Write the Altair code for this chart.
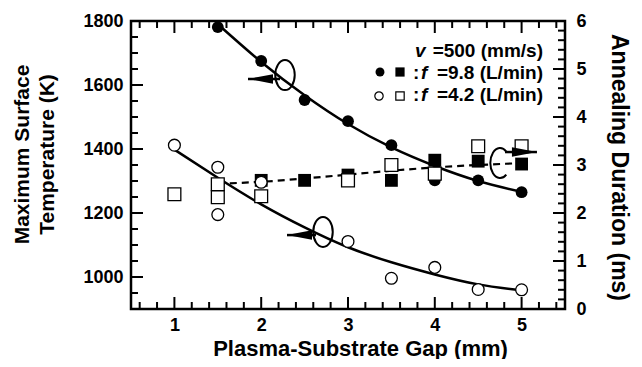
import altair as alt
import pandas as pd

# ---------------- data ----------------
# Maximum surface temperature (K), f = 9.8 L/min (closed circles)
gap_f98_temp = [1.5, 2, 2.5, 3, 3.5, 4, 4.5, 5]
temp_f98 = [1781, 1675, 1553, 1487, 1412, 1302, 1302, 1265]
# Maximum surface temperature (K), f = 4.2 L/min (open circles)
gap_f42_temp = [1, 1.5, 1.5, 2, 3, 3.5, 4, 4.5, 5]
temp_f42 = [1412, 1343, 1195, 1296, 1111, 996, 1030, 961, 960]
# Annealing duration (ms), f = 9.8 L/min (closed squares)
gap_f98_dur = [2, 2.5, 3, 3.5, 4, 4.5, 5]
dur_f98 = [2.68, 2.68, 2.79, 2.68, 3.10, 3.08, 3.02]
# Annealing duration (ms), f = 4.2 L/min (open squares)
gap_f42_dur = [1, 1.5, 1.5, 2, 3, 3.5, 4, 4.5, 5]
dur_f42 = [2.39, 2.60, 2.33, 2.35, 2.68, 3.00, 2.82, 3.39, 3.39]

# fitted curves
fit_gap_hi = [1.5, 2, 2.5, 3, 3.5, 4, 4.5, 5]
fit_temp_hi = [1790, 1672, 1568, 1478, 1405, 1347, 1300, 1266]
fit_gap_lo = [1, 1.5, 2, 2.5, 3, 3.5, 4, 4.5, 5]
fit_temp_lo = [1398, 1310, 1227, 1155, 1093, 1046, 1008, 977, 958]
fit_gap_dur = [1.5, 2, 2.5, 3, 3.5, 4, 4.5, 5]
fit_dur = [2.61, 2.65, 2.72, 2.80, 2.88, 2.95, 3.00, 3.04]

# annotation loops and arrows (data units)
loop_temp_gap = [2.274, 2.712]
loop_temp_val = [1631, 1141]
arrow_temp_tip = [1.848, 2.297]
arrow_temp_tail = [2.217, 2.631]
arrow_temp_val = [1619, 1131]
loop_dur_gap = [4.751]
loop_dur_val = [3.04]
arrow_dur_tip = [5.177]
arrow_dur_tail = [4.809]
arrow_dur_val = [3.27]

# ticks
x_major = [1, 2, 3, 4, 5]
x_minor = [0.6, 0.8, 1.2, 1.4, 1.6, 1.8, 2.2, 2.4, 2.6, 2.8, 3.2, 3.4, 3.6, 3.8,
           4.2, 4.4, 4.6, 4.8, 5.2, 5.4]
t_major = [1000, 1200, 1400, 1600, 1800]
t_minor = [950, 1050, 1100, 1150, 1250, 1300, 1350, 1450, 1500, 1550, 1650, 1700, 1750]
d_major = [0, 1, 2, 3, 4, 5, 6]
d_minor = [0.2, 0.4, 0.6, 0.8, 1.2, 1.4, 1.6, 1.8, 2.2, 2.4, 2.6, 2.8, 3.2, 3.4, 3.6,
           3.8, 4.2, 4.4, 4.6, 4.8, 5.2, 5.4, 5.6, 5.8]

x_title = "Plasma-Substrate Gap (mm)"
left_title = ["Maximum Surface", "Temperature (K)"]
right_title = "Annealing Duration (ms)"
legend_v = "v"
legend_v_tail = "=500 (mm/s)"
legend_sep = ":"
legend_f = "f"
legend_tail_98 = "=9.8 (L/min)"
legend_tail_42 = "=4.2 (L/min)"

# ---------------- styling ----------------
W, H = 434, 288
FONT = "Liberation Sans"
MAJ, MIN = 12, 7
ELLIPSE = "M0,-1 A0.65,1 0 1,1 0,1 A0.65,1 0 1,1 0,-1 Z"
C_SHAPE = "M0.42,-0.77 A0.65,1 0 1,0 0.42,0.77"
HEAD_LEFT = "M0,0 L2,-0.38 L2,0.38 Z"
HEAD_RIGHT = "M0,0 L-2,-0.38 L-2,0.38 Z"

xs = alt.Scale(domain=[0.5, 5.5], nice=False, zero=False)
ts = alt.Scale(domain=[900, 1800], nice=False, zero=False)
ds = alt.Scale(domain=[0, 6], nice=False, zero=False)

x_axis = alt.Axis(values=x_major, format="d", title=x_title, ticks=False, tickSize=0,
                  domain=False, grid=False, labelFont=FONT, labelFontSize=18,
                  labelFontWeight="bold", labelColor="black", labelPadding=7,
                  titleFont=FONT, titleFontSize=22, titleFontWeight="bold",
                  titleColor="black", titleX=229, titleY=46, titleAlign="center",
                  titleBaseline="alphabetic")
left_axis = alt.Axis(orient="left", values=t_major, format="d", title=left_title,
                     ticks=False, tickSize=0, domain=False, grid=False, labelFont=FONT,
                     labelFontSize=18, labelFontWeight="bold", labelColor="black",
                     labelPadding=8, titleFont=FONT, titleFontSize=21,
                     titleFontWeight="bold", titleColor="black", titleAngle=270,
                     titleX=-103, titleY=133, titleAlign="center",
                     titleBaseline="alphabetic", titleLineHeight=25)
right_axis = alt.Axis(orient="right", values=d_major, format="d", title=right_title,
                      ticks=False, tickSize=0, domain=False, grid=False, labelFont=FONT,
                      labelFontSize=18, labelFontWeight="bold", labelColor="black",
                      labelPadding=11, titleFont=FONT, titleFontSize=23,
                      titleFontWeight="bold", titleColor="black", titleAngle=90,
                      titleX=46, titleY=146, titleAlign="center",
                      titleBaseline="alphabetic")

Xn = lambda f="gap": alt.X(f"{f}:Q", scale=xs, axis=x_axis)
Tn = lambda f="val": alt.Y(f"{f}:Q", scale=ts, axis=None)
Dn = lambda f="val": alt.Y(f"{f}:Q", scale=ds, axis=None)


def df(x, y):
    return pd.DataFrame({"gap": x, "val": y})


layers = []

# --- frame ---
one = pd.DataFrame({"k": [0]})
layers.append(alt.Chart(one).mark_rect(filled=False, stroke="black", strokeWidth=2.5).encode(
    x=alt.value(0), x2=alt.value(W), y=alt.value(0), y2=alt.value(H)))

# --- tick marks (inward) ---
def xticks(vals, ln):
    d = pd.DataFrame({"gap": vals})
    b = alt.Chart(d).mark_rule(color="black", strokeWidth=2).encode(
        x=Xn(), y=alt.value(H), y2=alt.value(H - ln))
    t = alt.Chart(d).mark_rule(color="black", strokeWidth=2).encode(
        x=Xn(), y=alt.value(0), y2=alt.value(ln))
    return [b, t]

layers += xticks(x_major, MAJ) + xticks(x_minor, MIN)
for vals, ln in [(t_major, MAJ), (t_minor, MIN)]:
    layers.append(alt.Chart(pd.DataFrame({"val": vals})).mark_rule(
        color="black", strokeWidth=2).encode(y=Tn(), x=alt.value(0), x2=alt.value(ln)))
for vals, ln in [(d_major, MAJ), (d_minor, MIN)]:
    layers.append(alt.Chart(pd.DataFrame({"val": vals})).mark_rule(
        color="black", strokeWidth=2).encode(y=Dn(), x=alt.value(W), x2=alt.value(W - ln)))

# --- fitted curves ---
layers.append(alt.Chart(df(fit_gap_lo, fit_temp_lo)).mark_line(
    color="black", strokeWidth=2.5, interpolate="natural").encode(
    x=Xn(), y=alt.Y("val:Q", scale=ts, axis=left_axis)))
layers.append(alt.Chart(df(fit_gap_hi, fit_temp_hi)).mark_line(
    color="black", strokeWidth=2.5, interpolate="natural").encode(x=Xn(), y=Tn()))
layers.append(alt.Chart(df(fit_gap_dur, fit_dur)).mark_line(
    color="black", strokeWidth=2.2, strokeDash=[7, 5], interpolate="natural").encode(
    x=Xn(), y=alt.Y("val:Q", scale=ds, axis=right_axis)))

# --- data points ---
layers.append(alt.Chart(df(gap_f98_temp, temp_f98)).mark_point(
    shape="circle", filled=True, color="black", size=140, opacity=1).encode(x=Xn(), y=Tn()))
layers.append(alt.Chart(df(gap_f98_dur, dur_f98)).mark_point(
    shape="square", filled=True, color="black", size=165, opacity=1).encode(x=Xn(), y=Dn()))
layers.append(alt.Chart(df(gap_f42_temp, temp_f42)).mark_point(
    shape="circle", fill="white", stroke="black", strokeWidth=1.3, size=140,
    opacity=1, fillOpacity=1).encode(x=Xn(), y=Tn()))
layers.append(alt.Chart(df(gap_f42_dur, dur_f42)).mark_point(
    shape="square", fill="white", stroke="black", strokeWidth=1.3, size=165,
    opacity=1, fillOpacity=1).encode(x=Xn(), y=Dn()))

# --- loops and arrows ---
layers.append(alt.Chart(df(loop_temp_gap, loop_temp_val)).mark_point(
    shape=ELLIPSE, filled=False, stroke="black", strokeWidth=2, size=900,
    opacity=1).encode(x=Xn(), y=Tn()))
layers.append(alt.Chart(df(loop_dur_gap, loop_dur_val)).mark_point(
    shape=C_SHAPE, filled=False, stroke="black", strokeWidth=2, size=900,
    opacity=1).encode(x=Xn(), y=Dn()))
arr_t = pd.DataFrame({"tip": arrow_temp_tip, "tail": arrow_temp_tail, "val": arrow_temp_val})
arr_d = pd.DataFrame({"tip": arrow_dur_tip, "tail": arrow_dur_tail, "val": arrow_dur_val})
layers.append(alt.Chart(arr_t).mark_rule(color="black", strokeWidth=2.5).encode(
    x=Xn("tip"), x2="tail:Q", y=Tn()))
layers.append(alt.Chart(arr_t).mark_point(
    shape=HEAD_LEFT, filled=True, color="black", size=625, opacity=1).encode(
    x=Xn("tip"), y=Tn()))
layers.append(alt.Chart(arr_d).mark_rule(color="black", strokeWidth=2.5).encode(
    x=Xn("tip"), x2="tail:Q", y=Dn()))
layers.append(alt.Chart(arr_d).mark_point(
    shape=HEAD_RIGHT, filled=True, color="black", size=625, opacity=1).encode(
    x=Xn("tip"), y=Dn()))

# --- in-plot legend ---
def txt(s, x, y, align="left", italic=False):
    return alt.Chart(one).mark_text(
        font=FONT, fontSize=19, fontWeight="bold",
        fontStyle="italic" if italic else "normal", align=align,
        baseline="middle", color="black").encode(
        x=alt.value(x), y=alt.value(y), text=alt.value(s))

def sym(shape, filled, x, y, size):
    if filled:
        m = alt.Chart(one).mark_point(shape=shape, filled=True, color="black",
                                      size=size, opacity=1)
    else:
        m = alt.Chart(one).mark_point(shape=shape, fill="white", stroke="black",
                                      strokeWidth=1.2, size=size, opacity=1)
    return m.encode(x=alt.value(x), y=alt.value(y))

layers += [
    txt(legend_v, 284, 30, italic=True), txt(legend_v_tail, 412, 30, align="right"),
    sym("circle", True, 249, 51, 80), sym("square", True, 269, 51, 85),
    txt(legend_sep, 282, 52), txt(legend_f, 290, 52, italic=True),
    txt(legend_tail_98, 412, 52, align="right"),
    sym("circle", False, 248, 75, 70), sym("square", False, 269, 75, 70),
    txt(legend_sep, 282, 74), txt(legend_f, 290, 74, italic=True),
    txt(legend_tail_42, 412, 74, align="right"),
]

chart = alt.layer(*layers).resolve_scale(y="independent").properties(
    width=W, height=H,
    autosize=alt.AutoSizeParams(type="none"),
    padding={"left": 123, "top": 13, "right": 69, "bottom": 50},
).configure_view(stroke=None).configure(background="white")

chart.save("out.html", embed_options={"renderer": "svg", "actions": False})
